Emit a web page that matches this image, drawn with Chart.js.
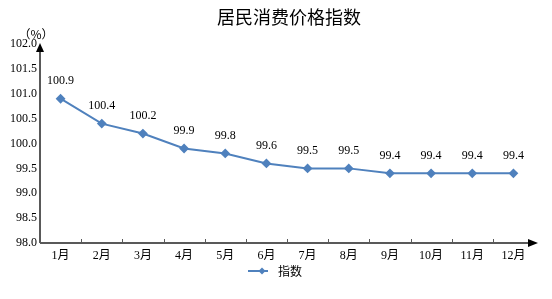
<!DOCTYPE html>
<html><head><meta charset="utf-8">
<script src="https://cdn.jsdelivr.net/npm/chart.js@4/dist/chart.umd.min.js"></script>
<style>html,body{margin:0;padding:0;background:#fff}#w{width:552px;height:299px}</style>
</head><body><div id="w"><canvas id="c"></canvas></div>
<script>
const title = '居民消费价格指数';
const unitLabel = '（%）';
const seriesName = '指数';
const categories = ['1月','2月','3月','4月','5月','6月','7月','8月','9月','10月','11月','12月'];
const values = [100.9,100.4,100.2,99.9,99.8,99.6,99.5,99.5,99.4,99.4,99.4,99.4];
const yMin = 98.0, yMax = 102.0, yStep = 0.5;

const LINE = '#4F81BD';
const AXIS = '#595959';
const SERIF = '"Liberation Serif","Noto Sans CJK SC",serif';
const CJK = '"Noto Sans CJK SC",sans-serif';

const deco = {
  id: 'deco',
  afterDraw(chart) {
    const ctx = chart.ctx, ca = chart.chartArea;
    const xs = chart.scales.x;
    ctx.save();
    ctx.fillStyle = '#000';
    ctx.font = '18px ' + CJK;
    ctx.textAlign = 'center'; ctx.textBaseline = 'middle';
    ctx.fillText(title, 289, 17);
    ctx.font = '12px ' + CJK;
    ctx.fillText(unitLabel, 36, 34);
    ctx.strokeStyle = AXIS; ctx.lineWidth = 1;
    for (let i = 1; i < categories.length; i++) {
      const x = Math.round((xs.getPixelForValue(i - 1) + xs.getPixelForValue(i)) / 2) + 0.5;
      ctx.beginPath(); ctx.moveTo(x, ca.bottom); ctx.lineTo(x, ca.bottom - 4); ctx.stroke();
    }
    ctx.strokeStyle = AXIS; ctx.lineWidth = 2;
    ctx.beginPath(); ctx.moveTo(ca.left, ca.bottom); ctx.lineTo(ca.left, ca.top + 4); ctx.stroke();
    ctx.beginPath(); ctx.moveTo(ca.left, ca.bottom); ctx.lineTo(ca.right, ca.bottom); ctx.stroke();
    ctx.fillStyle = '#000';
    ctx.beginPath(); ctx.moveTo(ca.left, ca.top - 1); ctx.lineTo(ca.left - 4, ca.top + 8); ctx.lineTo(ca.left + 4, ca.top + 8); ctx.closePath(); ctx.fill();
    ctx.beginPath(); ctx.moveTo(ca.right + 4, ca.bottom); ctx.lineTo(ca.right - 6, ca.bottom - 4); ctx.lineTo(ca.right - 6, ca.bottom + 4); ctx.closePath(); ctx.fill();
    ctx.font = '12px ' + SERIF;
    ctx.textAlign = 'center'; ctx.textBaseline = 'middle';
    ctx.fillStyle = '#000';
    const meta = chart.getDatasetMeta(0);
    meta.data.forEach((p, i) => {
      ctx.fillText(values[i].toFixed(1), p.x, p.y - 18);
    });
    const ly = 271;
    ctx.strokeStyle = LINE; ctx.lineWidth = 2;
    ctx.beginPath(); ctx.moveTo(248, ly); ctx.lineTo(268, ly); ctx.stroke();
    ctx.fillStyle = LINE;
    ctx.beginPath(); ctx.moveTo(262, ly - 3.5); ctx.lineTo(265.5, ly); ctx.lineTo(262, ly + 3.5); ctx.lineTo(258.5, ly); ctx.closePath(); ctx.fill();
    ctx.fillStyle = '#000';
    ctx.font = '12px ' + CJK;
    ctx.textAlign = 'left';
    ctx.fillText(seriesName, 278, ly);
    ctx.restore();
  }
};

new Chart(document.getElementById('c'), {
  type: 'line',
  data: {
    labels: categories,
    datasets: [{
      label: seriesName,
      data: values,
      borderColor: LINE,
      backgroundColor: LINE,
      borderWidth: 2,
      pointStyle: 'rectRot',
      pointRadius: 3.5,
      pointBackgroundColor: LINE,
      pointBorderColor: LINE,
      tension: 0
    }]
  },
  options: {
    responsive: true,
    maintainAspectRatio: false,
    animation: false,
    events: [],
    layout: { padding: { top: 44, right: 18, left: 0, bottom: 0 } },
    plugins: { legend: { display: false }, title: { display: false }, tooltip: { enabled: false } },
    scales: {
      x: {
        offset: true,
        grid: { display: false, drawTicks: false },
        border: { display: false },
        ticks: { color: '#000', font: { family: SERIF, size: 12 }, padding: 6, maxRotation: 0, autoSkip: false },
        afterFit(s) { s.height = 56; }
      },
      y: {
        min: yMin, max: yMax,
        grid: { display: false, drawTicks: false },
        border: { display: false },
        ticks: { stepSize: yStep, color: '#000', font: { family: SERIF, size: 12 }, padding: 3,
          callback: v => Number(v).toFixed(1) },
        afterFit(s) { s.width = 40; }
      }
    }
  },
  plugins: [deco]
});
</script>
</body></html>
